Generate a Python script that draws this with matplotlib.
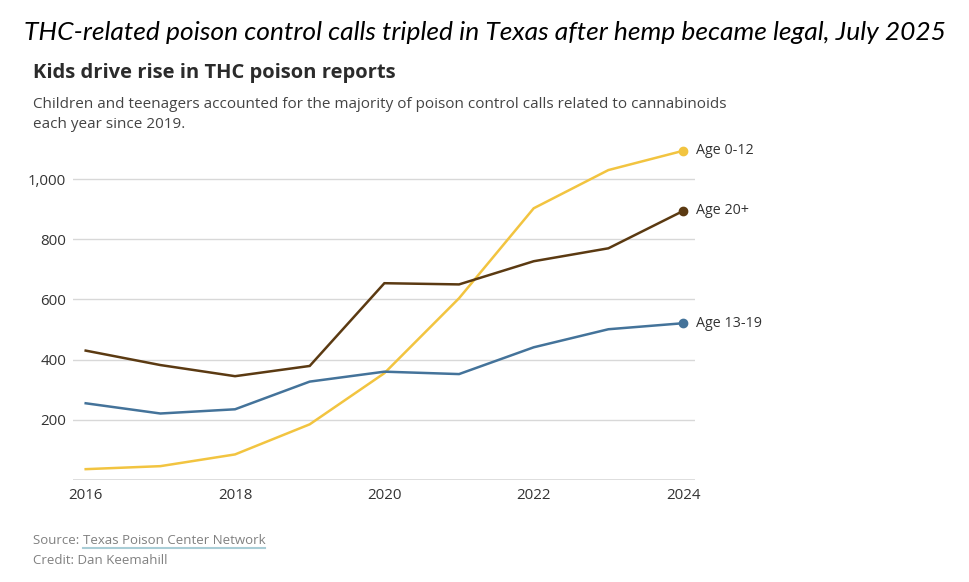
import matplotlib.pyplot as plt
from matplotlib.ticker import FuncFormatter

years = [2016, 2017, 2018, 2019, 2020, 2021, 2022, 2023, 2024]
age_0_12 = [36, 46, 85, 185, 355, 604, 903, 1030, 1094]
age_13_19 = [255, 221, 235, 327, 360, 352, 441, 501, 521]
age_20_up = [430, 382, 345, 379, 654, 650, 727, 770, 894]
series_names = ["Age 0-12", "Age 20+", "Age 13-19"]
yticks = [200, 400, 600, 800, 1000]
xticks = [2016, 2018, 2020, 2022, 2024]

colors = {"Age 0-12": "#f2c440", "Age 20+": "#5b3a12", "Age 13-19": "#44739a"}
values = {"Age 0-12": age_0_12, "Age 20+": age_20_up, "Age 13-19": age_13_19}

plt.rcParams['font.family'] = ['Open Sans', 'DejaVu Sans']

fig = plt.figure(figsize=(9.7, 5.82), dpi=100)
ax = fig.add_axes([73/970, 1 - 480/582, (695 - 73)/970, (480 - 149)/582])

for name in series_names:
    ax.plot(years, values[name], color=colors[name], lw=1.8, clip_on=False,
            solid_joinstyle='miter', zorder=3)
    ax.plot(years[-1], values[name][-1], 'o', color=colors[name], ms=6,
            clip_on=False, zorder=4)
    ax.annotate(name, (years[-1], values[name][-1]), xytext=(9, 0),
                textcoords='offset points', va='center', ha='left',
                fontsize=10.3, color='#333333')

ax.set_xlim(2016 - 0.17, 2024 + 0.16)
ax.set_ylim(0, 1100)
ax.set_yticks(yticks)
ax.set_xticks(xticks)
ax.yaxis.set_major_formatter(FuncFormatter(lambda v, p: f"{int(v):,}"))
ax.grid(axis='y', color='#d8d8d8', lw=1)
ax.axhline(0, color='#d8d8d8', lw=1.2)
ax.set_axisbelow(True)
for s in ax.spines.values():
    s.set_visible(False)
ax.tick_params(length=0, labelsize=10.8, labelcolor='#333333')
ax.tick_params(axis='y', pad=5)
ax.tick_params(axis='x', pad=6)

fig.text(0.5, 1 - 32/582, "THC-related poison control calls tripled in Texas after hemp became legal, July 2025",
         ha='center', va='center', fontsize=19, style='italic', family=['Lato', 'DejaVu Sans'],
         color='black')
fig.text(33/970, 1 - 73/582, "Kids drive rise in THC poison reports", ha='left', va='center',
         fontsize=14.5, weight='bold', color='#2b2b2b')
fig.text(33/970, 1 - 104/582, "Children and teenagers accounted for the majority of poison control calls related to cannabinoids",
         ha='left', va='center', fontsize=11, color='#444444')
fig.text(33/970, 1 - 124/582, "each year since 2019.", ha='left', va='center',
         fontsize=11, color='#444444')

t1 = fig.text(33/970, 1 - 540/582, "Source: ", ha='left', va='center', fontsize=9.5, color='#808080')
fig.canvas.draw()
bb = t1.get_window_extent()
x2 = bb.x1 / fig.bbox.width
t2 = fig.text(x2, 1 - 540/582, "Texas Poison Center Network", ha='left', va='center',
              fontsize=9.5, color='#808080')
fig.canvas.draw()
bb2 = t2.get_window_extent()
fig.add_artist(plt.Line2D([bb2.x0 / fig.bbox.width, bb2.x1 / fig.bbox.width],
                          [1 - 548/582, 1 - 548/582], color='#a9cdd6', lw=1.5))
fig.text(33/970, 1 - 561/582, "Credit: Dan Keemahill", ha='left', va='center',
         fontsize=9.5, color='#808080')

fig.savefig('out.png', dpi=100)
